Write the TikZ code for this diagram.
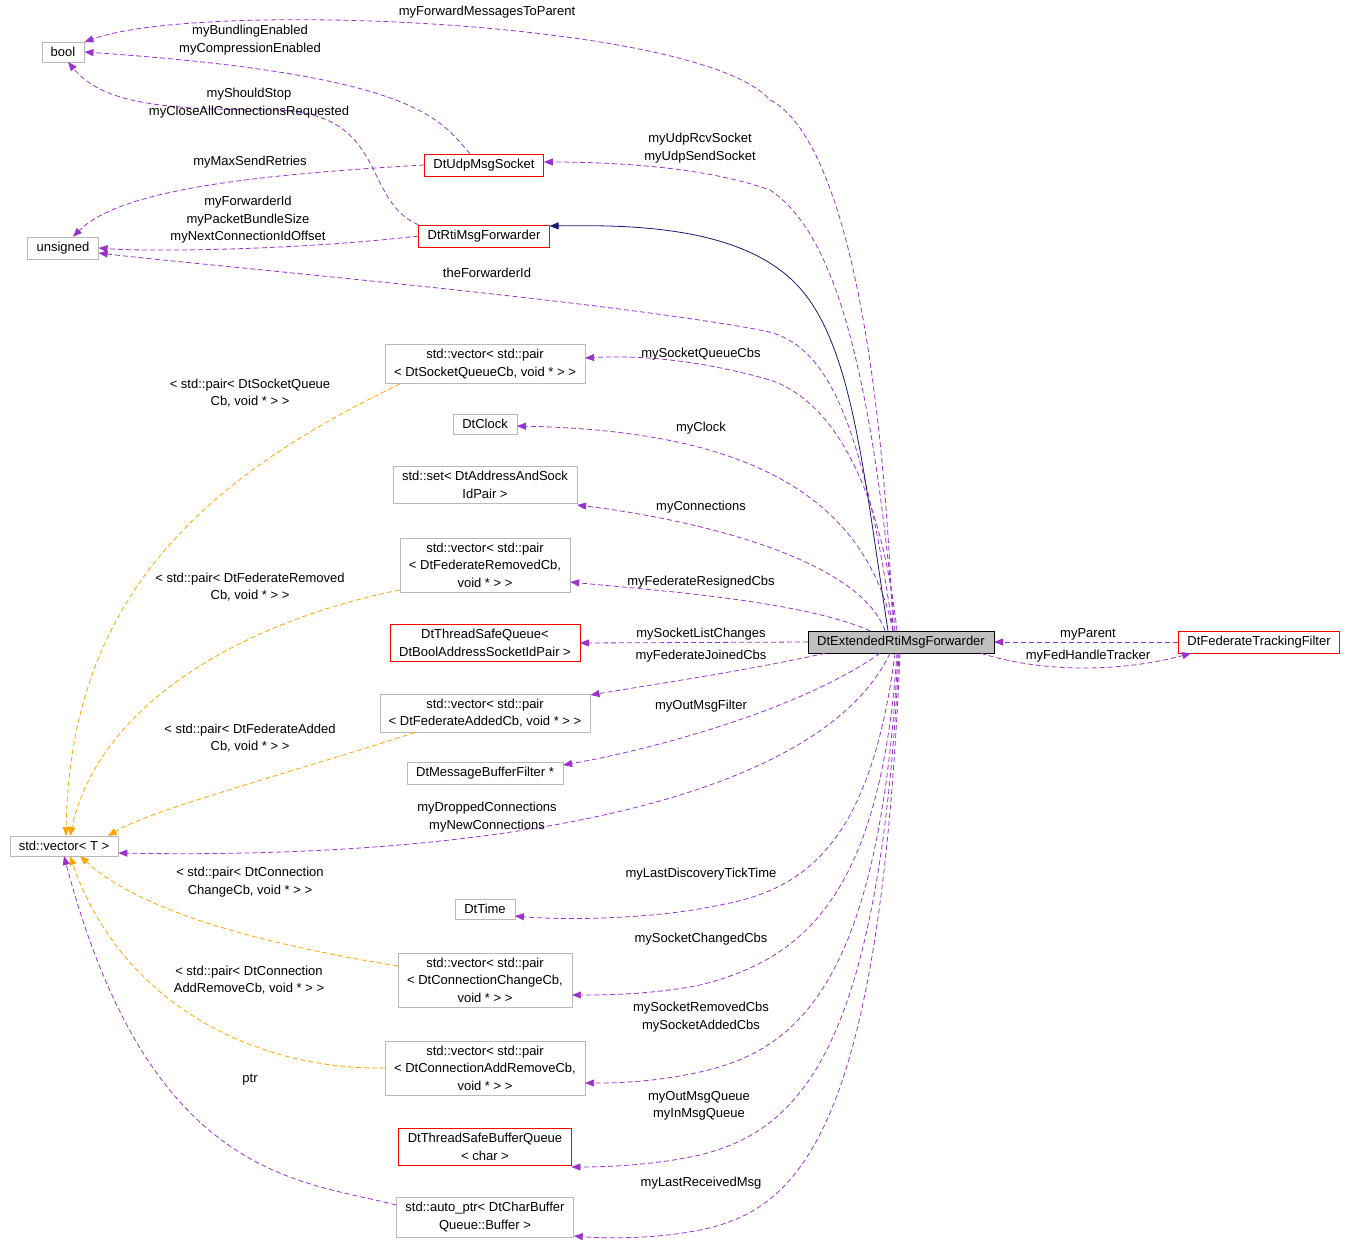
\documentclass[tikz,border=0pt]{standalone}
\usepackage{fontspec}
\setmainfont{Liberation Sans}
\usetikzlibrary{arrows.meta}
\definecolor{edgepurple}{HTML}{9A32CD}
\definecolor{edgeorange}{HTML}{FFA500}
\definecolor{edgenavy}{HTML}{191970}
\begin{document}
\begin{tikzpicture}[x=1pt, y=-1pt,
  font=\fontsize{13}{17.5}\selectfont,
  cls/.style={draw=gray!55, inner xsep=9pt, inner ysep=5pt, align=center},
  redcls/.style={cls, draw=red},
  redbox/.style={draw=red, line width=0.8pt},
  usage/.style={-{Triangle[length=9pt,width=7pt]}, line width=0.8pt, dash pattern=on 5pt off 3pt, color=edgepurple},
  templ/.style={-{Triangle[length=9pt,width=7pt]}, line width=0.8pt, dash pattern=on 5pt off 3pt, color=edgeorange},
  inherit/.style={-{Triangle[length=9pt,width=7pt]}, line width=0.8pt, color=edgenavy},
  lbl/.style={align=center, inner sep=0pt}]
  \useasboundingbox (0,0) rectangle (1349,1245);
  % classes
  \node[cls] (bool) at (63,52) {bool};
  \node[cls] (unsigned) at (63,248) {unsigned};
  \node[cls] (vecT) at (64,846) {std::vector< T >};
  \node[redcls] (udp) at (484,165) {DtUdpMsgSocket};
  \node[redcls] (rti) at (484,236) {DtRtiMsgForwarder};
  \node[cls] (sqcb) at (485,364) {std::vector< std::pair\\< DtSocketQueueCb, void * > >};
  \node[cls] (clock) at (485,424) {DtClock};
  \node[cls] (addrset) at (485,485) {std::set< DtAddressAndSock\\IdPair >};
  \node[cls] (fedrem) at (485,565) {std::vector< std::pair\\< DtFederateRemovedCb,\\void * > >};
  \node[cls, draw=none] (tsq) at (485,643) {DtThreadSafeQueue<\\ DtBoolAddressSocketIdPair >};
  \draw[redbox] (tsq.south west) rectangle (tsq.north east);
  \node[cls] (fedadd) at (485,713) {std::vector< std::pair\\< DtFederateAddedCb, void * > >};
  \node[cls] (mbf) at (485,773) {DtMessageBufferFilter *};
  \node[cls] (time) at (485,909) {DtTime};
  \node[cls] (conchg) at (485,980) {std::vector< std::pair\\< DtConnectionChangeCb,\\void * > >};
  \node[cls] (conaddrm) at (485,1068) {std::vector< std::pair\\< DtConnectionAddRemoveCb,\\void * > >};
  \node[cls, draw=none] (tsbq) at (485,1147) {DtThreadSafeBufferQueue\\< char >};
  \draw[redbox] (tsbq.south west) rectangle (tsbq.north east);
  \node[cls] (autoptr) at (485,1217) {std::auto\_ptr< DtCharBuffer\\Queue::Buffer >};
  \node[cls, draw=black, fill=gray!50] (main) at (901,642) {DtExtendedRtiMsgForwarder};
  \node[redcls] (filter) at (1259,642) {DtFederateTrackingFilter};
  % connectors
  \draw[usage] ([xshift=-8pt]main.north) .. controls (880,300) and (830,130) .. (770,100) .. controls (700,20) and (200,0) .. (bool.north east);
  \draw[usage] ([xshift=-14pt]udp.north) .. controls (440,120) and (420,75) .. (bool.east);
  \draw[usage] (rti.north west) .. controls (360,200) and (390,110) .. (270,110) .. controls (150,110) and (100,100) .. ([xshift=5pt]bool.south);
  \draw[usage] (udp.west) .. controls (250,175) and (120,190) .. ([xshift=10pt]unsigned.north);
  \draw[usage] (rti.west) .. controls (300,250) and (150,252) .. (unsigned.east);
  \draw[usage] ([xshift=-8pt]main.north) .. controls (860,400) and (820,340) .. (760,330) .. controls (600,300) and (200,265) .. ([yshift=-5pt]unsigned.east);
  \draw[usage] ([xshift=-6pt]main.north) .. controls (870,350) and (830,230) .. (770,190) .. controls (700,165) and (600,162) .. ([yshift=3pt]udp.east);
  \draw[inherit] ([xshift=-13pt]main.north) .. controls (860,450) and (850,320) .. (780,270) .. controls (720,225) and (620,225) .. ([yshift=10pt]rti.east);
  \draw[usage] ([xshift=-4pt]main.north) .. controls (880,480) and (830,400) .. (770,380) .. controls (700,360) and (640,355) .. ([yshift=6pt]sqcb.east);
  \draw[usage] ([xshift=-8pt]main.north) .. controls (860,470) and (700,430) .. ([yshift=-2pt]clock.east);
  \draw[usage] ([xshift=-16pt]main.north) .. controls (860,560) and (700,520) .. ([yshift=-20pt]addrset.east);
  \draw[usage] ([xshift=-31pt]main.north) .. controls (800,600) and (650,590) .. ([yshift=-17pt]fedrem.east);
  \draw[usage] (main.west) -- (tsq.east);
  \draw[usage] ([xshift=-76pt]main.south) .. controls (750,670) and (650,685) .. ([yshift=18pt]fedadd.east);
  \draw[usage] ([xshift=-21pt]main.south) .. controls (800,710) and (650,750) .. ([yshift=8pt]mbf.east);
  \draw[usage] ([xshift=-11pt]main.south) .. controls (820,800) and (500,860) .. ([yshift=-7pt]vecT.east);
  \draw[usage] ([xshift=-6pt]main.south) .. controls (870,850) and (800,890) .. (720,905) .. controls (650,920) and (560,920) .. ([yshift=-7pt]time.east);
  \draw[usage] ([xshift=-4pt]main.south) .. controls (880,900) and (800,960) .. (700,985) .. controls (650,995) and (600,995) .. ([yshift=-15pt]conchg.east);
  \draw[usage] ([xshift=-3pt]main.south) .. controls (880,980) and (800,1050) .. (700,1072) .. controls (650,1083) and (610,1083) .. ([yshift=-15pt]conaddrm.east);
  \draw[usage] ([xshift=-2pt]main.south) .. controls (880,1050) and (800,1130) .. (700,1155) .. controls (650,1166) and (600,1167) .. ([yshift=-20pt]tsbq.east);
  \draw[usage] ([xshift=-1pt]main.south) .. controls (880,1130) and (800,1210) .. (700,1230) .. controls (650,1240) and (600,1238) .. ([yshift=-19pt]autoptr.east);
  \draw[usage] (filter.west) -- (main.east);
  \draw[usage] ([xshift=80pt]main.south) .. controls (1050,675) and (1130,670) .. ([xshift=13pt]filter.south west);
  \draw[templ] ([xshift=-85pt]sqcb.south) .. controls (200,480) and (70,600) .. ([xshift=2pt]vecT.north);
  \draw[templ] ([yshift=-25pt]fedrem.west) .. controls (250,620) and (100,700) .. ([xshift=6pt]vecT.north);
  \draw[templ] ([xshift=-70pt]fedadd.south) .. controls (300,770) and (150,810) .. ([xshift=44pt]vecT.north);
  \draw[templ] ([yshift=14pt]conchg.west) .. controls (300,950) and (150,920) .. ([xshift=16pt]vecT.south);
  \draw[templ] (conaddrm.west) .. controls (250,1070) and (120,1000) .. ([xshift=6pt]vecT.south);
  \draw[usage] ([yshift=12pt]autoptr.west) .. controls (300,1180) and (150,1180) .. (vecT.south);
  % labels
  \node[lbl] (l1) at (487,12) {myForwardMessagesToParent};
  \node[lbl] (l2) at (250,40) {myBundlingEnabled\\myCompressionEnabled};
  \node[lbl] (l3) at (249,103) {myShouldStop\\myCloseAllConnectionsRequested};
  \node[lbl] (l4) at (250,162) {myMaxSendRetries};
  \node[lbl] (l5) at (248,220) {myForwarderId\\myPacketBundleSize\\myNextConnectionIdOffset};
  \node[lbl] (l6) at (487,273) {theForwarderId};
  \node[lbl] (l7) at (700,148) {myUdpRcvSocket\\myUdpSendSocket};
  \node[lbl] (l8) at (701,354) {mySocketQueueCbs};
  \node[lbl] (l9) at (701,428) {myClock};
  \node[lbl] (l10) at (701,507) {myConnections};
  \node[lbl] (l11) at (701,582) {myFederateResignedCbs};
  \node[lbl] (l12) at (701,634) {mySocketListChanges};
  \node[lbl] (l13) at (701,656) {myFederateJoinedCbs};
  \node[lbl] (l14) at (701,706) {myOutMsgFilter};
  \node[lbl] (l15) at (487,817) {myDroppedConnections\\myNewConnections};
  \node[lbl] (l16) at (701,874) {myLastDiscoveryTickTime};
  \node[lbl] (l17) at (701,939) {mySocketChangedCbs};
  \node[lbl] (l18) at (701,1017) {mySocketRemovedCbs\\mySocketAddedCbs};
  \node[lbl] (l19) at (699,1106) {myOutMsgQueue\\myInMsgQueue};
  \node[lbl] (l20) at (701,1183) {myLastReceivedMsg};
  \node[lbl] (l21) at (1088,634) {myParent};
  \node[lbl] (l22) at (1088,656) {myFedHandleTracker};
  \node[lbl] (l23) at (250,393) {< std::pair< DtSocketQueue\\Cb, void * > >};
  \node[lbl] (l24) at (250,587) {< std::pair< DtFederateRemoved\\Cb, void * > >};
  \node[lbl] (l25) at (250,738) {< std::pair< DtFederateAdded\\Cb, void * > >};
  \node[lbl] (l26) at (250,882) {< std::pair< DtConnection\\ChangeCb, void * > >};
  \node[lbl] (l27) at (249,980) {< std::pair< DtConnection\\AddRemoveCb, void * > >};
  \node[lbl] (l28) at (250,1080) {ptr};
\end{tikzpicture}
\end{document}
